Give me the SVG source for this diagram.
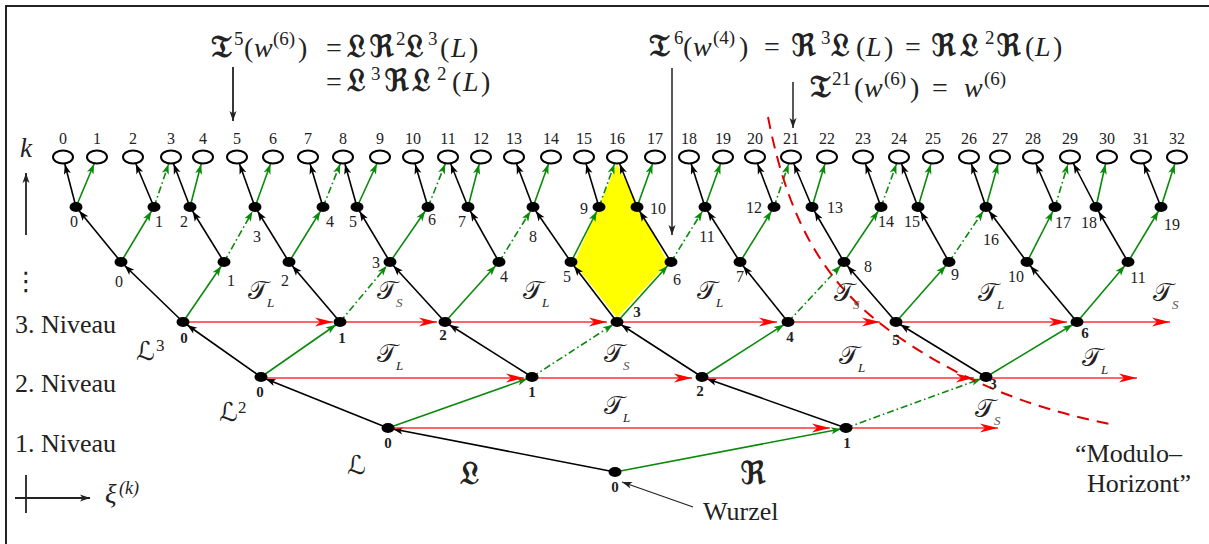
<svg xmlns="http://www.w3.org/2000/svg" width="1209" height="544" viewBox="0 0 1209 544">
<style>
.frame{stroke:#222;stroke-width:2;fill:none}
.b,.bl,.g,.gl,.d,.dl{fill:none;stroke-width:1.6}
.b{stroke:#000;marker-end:url(#ab)}
.bl{stroke:#000;marker-end:url(#abl)}
.g{stroke:#0a8a0a;marker-end:url(#ag)}
.gl{stroke:#0a8a0a;marker-end:url(#agl)}
.d{stroke:#0a8a0a;stroke-dasharray:7 3 1.6 3;marker-end:url(#ag)}
.dl{stroke:#0a8a0a;stroke-dasharray:7 3 1.6 3;marker-end:url(#agl)}
.r{stroke:#ff3333;stroke-width:1.3;fill:none;marker-end:url(#ar)}
.ax{stroke:#222;stroke-width:1.8;fill:none}
.nd{fill:#000}
.lf{fill:#fff;stroke:#000;stroke-width:2}
text{font-family:"Liberation Serif","DejaVu Serif","DejaVu Sans",serif;fill:#222}
.n{font-size:16px;text-anchor:middle}
.n3{font-size:15px;font-weight:bold;text-anchor:middle}
.m{font-size:28px}
.fk{font-size:31px;font-weight:bold}
.sp{font-size:19px}
.it{font-style:italic}
.tl{font-size:26px}
.sub{font-size:13px;font-style:italic}
.lab{font-size:26px}
</style>
<defs>
<marker id="ab" markerUnits="userSpaceOnUse" orient="auto" overflow="visible" refX="5" refY="0" markerWidth="1" markerHeight="1"><path d="M0,0 L-10,-3.6 L-7.5,0 L-10,3.6Z" fill="#000"/></marker>
<marker id="abl" markerUnits="userSpaceOnUse" orient="auto" overflow="visible" refX="7.5" refY="0" markerWidth="1" markerHeight="1"><path d="M0,0 L-10,-3.6 L-7.5,0 L-10,3.6Z" fill="#000"/></marker>
<marker id="ag" markerUnits="userSpaceOnUse" orient="auto" overflow="visible" refX="5" refY="0" markerWidth="1" markerHeight="1"><path d="M0,0 L-10,-3.6 L-7.5,0 L-10,3.6Z" fill="#0a8a0a"/></marker>
<marker id="agl" markerUnits="userSpaceOnUse" orient="auto" overflow="visible" refX="7.5" refY="0" markerWidth="1" markerHeight="1"><path d="M0,0 L-10,-3.6 L-7.5,0 L-10,3.6Z" fill="#0a8a0a"/></marker>
<marker id="ar" markerUnits="userSpaceOnUse" orient="auto" overflow="visible" refX="0" refY="0" markerWidth="1" markerHeight="1"><path d="M0,0 L-18,-4.5 L-13,0 L-18,4.5Z" fill="#ff0000"/></marker>
<marker id="ak" markerUnits="userSpaceOnUse" orient="auto" overflow="visible" refX="0" refY="0" markerWidth="1" markerHeight="1"><path d="M0,0 L-10,-3.5 L-7.5,0 L-10,3.5Z" fill="#222"/></marker>
</defs>

<path class="frame" d="M6,544 V6 H1209"/>

<polygon id="highlight" points="574,263 617,164 668,263 617,318" fill="#ffff00"/>

<g id="connectors">
<line class="b" x1="615" y1="472" x2="388" y2="428"/>
<line class="g" x1="615" y1="472" x2="846" y2="428"/>
<line class="b" x1="388" y1="428" x2="261" y2="377"/>
<line class="g" x1="388" y1="428" x2="532" y2="377"/>
<line class="b" x1="846" y1="428" x2="702" y2="377"/>
<line class="d" x1="846" y1="428" x2="986" y2="377"/>
<line class="b" x1="261" y1="377" x2="183" y2="322"/>
<line class="g" x1="261" y1="377" x2="340" y2="322"/>
<line class="b" x1="532" y1="377" x2="445" y2="322"/>
<line class="d" x1="532" y1="377" x2="617" y2="322"/>
<line class="b" x1="702" y1="377" x2="617" y2="322"/>
<line class="g" x1="702" y1="377" x2="788" y2="322"/>
<line class="b" x1="986" y1="377" x2="896" y2="322"/>
<line class="g" x1="986" y1="377" x2="1077" y2="322"/>
<line class="b" x1="183" y1="322" x2="121" y2="262"/>
<line class="g" x1="183" y1="322" x2="224" y2="262"/>
<line class="b" x1="340" y1="322" x2="289" y2="262"/>
<line class="d" x1="340" y1="322" x2="390" y2="262"/>
<line class="b" x1="445" y1="322" x2="390" y2="262"/>
<line class="g" x1="445" y1="322" x2="499" y2="262"/>
<line class="b" x1="617" y1="322" x2="571" y2="262"/>
<line class="g" x1="617" y1="322" x2="671" y2="262"/>
<line class="b" x1="788" y1="322" x2="740" y2="262"/>
<line class="d" x1="788" y1="322" x2="844" y2="262"/>
<line class="b" x1="896" y1="322" x2="844" y2="262"/>
<line class="g" x1="896" y1="322" x2="949" y2="262"/>
<line class="b" x1="1077" y1="322" x2="1027" y2="262"/>
<line class="g" x1="1077" y1="322" x2="1128" y2="262"/>
<line class="b" x1="121" y1="262" x2="76" y2="207"/>
<line class="g" x1="121" y1="262" x2="154" y2="207"/>
<line class="b" x1="224" y1="262" x2="190" y2="207"/>
<line class="d" x1="224" y1="262" x2="255" y2="207"/>
<line class="b" x1="289" y1="262" x2="255" y2="207"/>
<line class="g" x1="289" y1="262" x2="323" y2="207"/>
<line class="b" x1="390" y1="262" x2="357" y2="207"/>
<line class="g" x1="390" y1="262" x2="428" y2="207"/>
<line class="b" x1="499" y1="262" x2="468" y2="207"/>
<line class="d" x1="499" y1="262" x2="533" y2="207"/>
<line class="b" x1="571" y1="262" x2="533" y2="207"/>
<line class="g" x1="571" y1="262" x2="599" y2="207"/>
<line class="b" x1="671" y1="262" x2="637" y2="207"/>
<line class="d" x1="671" y1="262" x2="705" y2="207"/>
<line class="b" x1="740" y1="262" x2="705" y2="207"/>
<line class="g" x1="740" y1="262" x2="774" y2="207"/>
<line class="b" x1="844" y1="262" x2="812" y2="207"/>
<line class="g" x1="844" y1="262" x2="881" y2="207"/>
<line class="b" x1="949" y1="262" x2="918" y2="207"/>
<line class="d" x1="949" y1="262" x2="986" y2="207"/>
<line class="b" x1="1027" y1="262" x2="986" y2="207"/>
<line class="g" x1="1027" y1="262" x2="1055" y2="207"/>
<line class="b" x1="1128" y1="262" x2="1096" y2="207"/>
<line class="g" x1="1128" y1="262" x2="1161" y2="207"/>
<line class="bl" x1="76" y1="207" x2="63" y2="157"/>
<line class="gl" x1="76" y1="207" x2="97" y2="157"/>
<line class="bl" x1="154" y1="207" x2="133" y2="157"/>
<line class="dl" x1="154" y1="207" x2="171" y2="157"/>
<line class="bl" x1="190" y1="207" x2="171" y2="157"/>
<line class="gl" x1="190" y1="207" x2="203" y2="157"/>
<line class="bl" x1="255" y1="207" x2="237" y2="157"/>
<line class="gl" x1="255" y1="207" x2="273" y2="157"/>
<line class="bl" x1="323" y1="207" x2="308" y2="157"/>
<line class="dl" x1="323" y1="207" x2="343" y2="157"/>
<line class="bl" x1="357" y1="207" x2="343" y2="157"/>
<line class="gl" x1="357" y1="207" x2="380" y2="157"/>
<line class="bl" x1="428" y1="207" x2="413" y2="157"/>
<line class="dl" x1="428" y1="207" x2="448" y2="157"/>
<line class="bl" x1="468" y1="207" x2="448" y2="157"/>
<line class="gl" x1="468" y1="207" x2="481" y2="157"/>
<line class="bl" x1="533" y1="207" x2="514" y2="157"/>
<line class="gl" x1="533" y1="207" x2="551" y2="157"/>
<line class="bl" x1="599" y1="207" x2="584" y2="157"/>
<line class="dl" x1="599" y1="207" x2="617" y2="157"/>
<line class="bl" x1="637" y1="207" x2="617" y2="157"/>
<line class="gl" x1="637" y1="207" x2="655" y2="157"/>
<line class="bl" x1="705" y1="207" x2="689" y2="157"/>
<line class="gl" x1="705" y1="207" x2="723" y2="157"/>
<line class="bl" x1="774" y1="207" x2="755" y2="157"/>
<line class="dl" x1="774" y1="207" x2="791" y2="157"/>
<line class="bl" x1="812" y1="207" x2="791" y2="157"/>
<line class="gl" x1="812" y1="207" x2="827" y2="157"/>
<line class="bl" x1="881" y1="207" x2="863" y2="157"/>
<line class="dl" x1="881" y1="207" x2="899" y2="157"/>
<line class="bl" x1="918" y1="207" x2="899" y2="157"/>
<line class="gl" x1="918" y1="207" x2="933" y2="157"/>
<line class="bl" x1="986" y1="207" x2="969" y2="157"/>
<line class="gl" x1="986" y1="207" x2="1000" y2="157"/>
<line class="bl" x1="1055" y1="207" x2="1033" y2="157"/>
<line class="dl" x1="1055" y1="207" x2="1070" y2="157"/>
<line class="bl" x1="1096" y1="207" x2="1070" y2="157"/>
<line class="gl" x1="1096" y1="207" x2="1107" y2="157"/>
<line class="bl" x1="1161" y1="207" x2="1141" y2="157"/>
<line class="gl" x1="1161" y1="207" x2="1177" y2="157"/>
<line class="r" x1="183" y1="322" x2="333" y2="322"/>
<line class="r" x1="340" y1="322" x2="437" y2="322"/>
<line class="r" x1="445" y1="322" x2="607" y2="322"/>
<line class="r" x1="617" y1="322" x2="777" y2="322"/>
<line class="r" x1="788" y1="322" x2="880" y2="322"/>
<line class="r" x1="896" y1="322" x2="1067" y2="322"/>
<line class="r" x1="1077" y1="322" x2="1170" y2="322"/>
<line class="r" x1="261" y1="378" x2="524" y2="378"/>
<line class="r" x1="532" y1="378" x2="692" y2="378"/>
<line class="r" x1="702" y1="378" x2="974" y2="378"/>
<line class="r" x1="986" y1="378" x2="1137" y2="378"/>
<line class="r" x1="388" y1="428" x2="830" y2="428"/>
<line class="r" x1="846" y1="428" x2="998" y2="428"/>
<line class="ax" x1="233" y1="67" x2="233" y2="121" marker-end="url(#ak)"/>
<line class="ax" x1="672" y1="68" x2="672" y2="235" marker-end="url(#ak)" style="stroke-width:1.5"/>
<line class="ax" x1="793" y1="82" x2="793" y2="128" marker-end="url(#ak)" style="stroke-width:1.5"/>
<line class="ax" x1="693" y1="507" x2="622" y2="482" marker-end="url(#ak)" style="stroke-width:1.2"/>
</g>

<path id="modulo-horizont" d="M768,117 C790,230 830,290 900,338 S1040,410 1110,424" fill="none" stroke="#dd0000" stroke-width="2" stroke-dasharray="12 8"/>

<g id="leaves">
<g id="leaf0"><ellipse class="lf" cx="63" cy="157" rx="10" ry="6.5"/><text class="n" x="63" y="144">0</text></g>
<g id="leaf1"><ellipse class="lf" cx="97" cy="157" rx="10" ry="6.5"/><text class="n" x="97" y="144">1</text></g>
<g id="leaf2"><ellipse class="lf" cx="133" cy="157" rx="10" ry="6.5"/><text class="n" x="133" y="144">2</text></g>
<g id="leaf3"><ellipse class="lf" cx="171" cy="157" rx="10" ry="6.5"/><text class="n" x="171" y="144">3</text></g>
<g id="leaf4"><ellipse class="lf" cx="203" cy="157" rx="10" ry="6.5"/><text class="n" x="203" y="144">4</text></g>
<g id="leaf5"><ellipse class="lf" cx="237" cy="157" rx="10" ry="6.5"/><text class="n" x="237" y="144">5</text></g>
<g id="leaf6"><ellipse class="lf" cx="273" cy="157" rx="10" ry="6.5"/><text class="n" x="273" y="144">6</text></g>
<g id="leaf7"><ellipse class="lf" cx="308" cy="157" rx="10" ry="6.5"/><text class="n" x="308" y="144">7</text></g>
<g id="leaf8"><ellipse class="lf" cx="343" cy="157" rx="10" ry="6.5"/><text class="n" x="343" y="144">8</text></g>
<g id="leaf9"><ellipse class="lf" cx="380" cy="157" rx="10" ry="6.5"/><text class="n" x="380" y="144">9</text></g>
<g id="leaf10"><ellipse class="lf" cx="413" cy="157" rx="10" ry="6.5"/><text class="n" x="413" y="144">10</text></g>
<g id="leaf11"><ellipse class="lf" cx="448" cy="157" rx="10" ry="6.5"/><text class="n" x="448" y="144">11</text></g>
<g id="leaf12"><ellipse class="lf" cx="481" cy="157" rx="10" ry="6.5"/><text class="n" x="481" y="144">12</text></g>
<g id="leaf13"><ellipse class="lf" cx="514" cy="157" rx="10" ry="6.5"/><text class="n" x="514" y="144">13</text></g>
<g id="leaf14"><ellipse class="lf" cx="551" cy="157" rx="10" ry="6.5"/><text class="n" x="551" y="144">14</text></g>
<g id="leaf15"><ellipse class="lf" cx="584" cy="157" rx="10" ry="6.5"/><text class="n" x="584" y="144">15</text></g>
<g id="leaf16"><ellipse class="lf" cx="617" cy="157" rx="10" ry="6.5"/><text class="n" x="617" y="144">16</text></g>
<g id="leaf17"><ellipse class="lf" cx="655" cy="157" rx="10" ry="6.5"/><text class="n" x="655" y="144">17</text></g>
<g id="leaf18"><ellipse class="lf" cx="689" cy="157" rx="10" ry="6.5"/><text class="n" x="689" y="144">18</text></g>
<g id="leaf19"><ellipse class="lf" cx="723" cy="157" rx="10" ry="6.5"/><text class="n" x="723" y="144">19</text></g>
<g id="leaf20"><ellipse class="lf" cx="755" cy="157" rx="10" ry="6.5"/><text class="n" x="755" y="144">20</text></g>
<g id="leaf21"><ellipse class="lf" cx="791" cy="157" rx="10" ry="6.5"/><text class="n" x="791" y="144">21</text></g>
<g id="leaf22"><ellipse class="lf" cx="827" cy="157" rx="10" ry="6.5"/><text class="n" x="827" y="144">22</text></g>
<g id="leaf23"><ellipse class="lf" cx="863" cy="157" rx="10" ry="6.5"/><text class="n" x="863" y="144">23</text></g>
<g id="leaf24"><ellipse class="lf" cx="899" cy="157" rx="10" ry="6.5"/><text class="n" x="899" y="144">24</text></g>
<g id="leaf25"><ellipse class="lf" cx="933" cy="157" rx="10" ry="6.5"/><text class="n" x="933" y="144">25</text></g>
<g id="leaf26"><ellipse class="lf" cx="969" cy="157" rx="10" ry="6.5"/><text class="n" x="969" y="144">26</text></g>
<g id="leaf27"><ellipse class="lf" cx="1000" cy="157" rx="10" ry="6.5"/><text class="n" x="1000" y="144">27</text></g>
<g id="leaf28"><ellipse class="lf" cx="1033" cy="157" rx="10" ry="6.5"/><text class="n" x="1033" y="144">28</text></g>
<g id="leaf29"><ellipse class="lf" cx="1070" cy="157" rx="10" ry="6.5"/><text class="n" x="1070" y="144">29</text></g>
<g id="leaf30"><ellipse class="lf" cx="1107" cy="157" rx="10" ry="6.5"/><text class="n" x="1107" y="144">30</text></g>
<g id="leaf31"><ellipse class="lf" cx="1141" cy="157" rx="10" ry="6.5"/><text class="n" x="1141" y="144">31</text></g>
<g id="leaf32"><ellipse class="lf" cx="1177" cy="157" rx="10" ry="6.5"/><text class="n" x="1177" y="144">32</text></g>
</g>

<g id="level5">
<g id="n5-0"><ellipse class="nd" cx="76" cy="207" rx="6.5" ry="5"/><text class="n" x="74" y="227">0</text></g>
<g id="n5-1"><ellipse class="nd" cx="154" cy="207" rx="6.5" ry="5"/><text class="n" x="159" y="227">1</text></g>
<g id="n5-2"><ellipse class="nd" cx="190" cy="207" rx="6.5" ry="5"/><text class="n" x="184" y="227">2</text></g>
<g id="n5-3"><ellipse class="nd" cx="255" cy="207" rx="6.5" ry="5"/><text class="n" x="257" y="242">3</text></g>
<g id="n5-4"><ellipse class="nd" cx="323" cy="207" rx="6.5" ry="5"/><text class="n" x="330" y="227">4</text></g>
<g id="n5-5"><ellipse class="nd" cx="357" cy="207" rx="6.5" ry="5"/><text class="n" x="353" y="227">5</text></g>
<g id="n5-6"><ellipse class="nd" cx="428" cy="207" rx="6.5" ry="5"/><text class="n" x="432" y="225">6</text></g>
<g id="n5-7"><ellipse class="nd" cx="468" cy="207" rx="6.5" ry="5"/><text class="n" x="462" y="227">7</text></g>
<g id="n5-8"><ellipse class="nd" cx="533" cy="207" rx="6.5" ry="5"/><text class="n" x="533" y="242">8</text></g>
<g id="n5-9"><ellipse class="nd" cx="599" cy="207" rx="6.5" ry="5"/><text class="n" x="584" y="214">9</text></g>
<g id="n5-10"><ellipse class="nd" cx="637" cy="207" rx="6.5" ry="5"/><text class="n" x="658" y="214">10</text></g>
<g id="n5-11"><ellipse class="nd" cx="705" cy="207" rx="6.5" ry="5"/><text class="n" x="707" y="242">11</text></g>
<g id="n5-12"><ellipse class="nd" cx="774" cy="207" rx="6.5" ry="5"/><text class="n" x="754" y="213">12</text></g>
<g id="n5-13"><ellipse class="nd" cx="812" cy="207" rx="6.5" ry="5"/><text class="n" x="835" y="213">13</text></g>
<g id="n5-14"><ellipse class="nd" cx="881" cy="207" rx="6.5" ry="5"/><text class="n" x="886" y="227">14</text></g>
<g id="n5-15"><ellipse class="nd" cx="918" cy="207" rx="6.5" ry="5"/><text class="n" x="912" y="227">15</text></g>
<g id="n5-16"><ellipse class="nd" cx="986" cy="207" rx="6.5" ry="5"/><text class="n" x="991" y="245">16</text></g>
<g id="n5-17"><ellipse class="nd" cx="1055" cy="207" rx="6.5" ry="5"/><text class="n" x="1063" y="228">17</text></g>
<g id="n5-18"><ellipse class="nd" cx="1096" cy="207" rx="6.5" ry="5"/><text class="n" x="1089" y="228">18</text></g>
<g id="n5-19"><ellipse class="nd" cx="1161" cy="207" rx="6.5" ry="5"/><text class="n" x="1172" y="230">19</text></g>
</g>

<g id="level4">
<g id="n4-0"><ellipse class="nd" cx="121" cy="262" rx="6.5" ry="5"/><text class="n" x="119" y="287">0</text></g>
<g id="n4-1"><ellipse class="nd" cx="224" cy="262" rx="6.5" ry="5"/><text class="n" x="231" y="286">1</text></g>
<g id="n4-2"><ellipse class="nd" cx="289" cy="262" rx="6.5" ry="5"/><text class="n" x="285" y="286">2</text></g>
<g id="n4-3"><ellipse class="nd" cx="390" cy="262" rx="6.5" ry="5"/><text class="n" x="376" y="268">3</text></g>
<g id="n4-4"><ellipse class="nd" cx="499" cy="262" rx="6.5" ry="5"/><text class="n" x="504" y="282">4</text></g>
<g id="n4-5"><ellipse class="nd" cx="571" cy="262" rx="6.5" ry="5"/><text class="n" x="567" y="282">5</text></g>
<g id="n4-6"><ellipse class="nd" cx="671" cy="262" rx="6.5" ry="5"/><text class="n" x="677" y="285">6</text></g>
<g id="n4-7"><ellipse class="nd" cx="740" cy="262" rx="6.5" ry="5"/><text class="n" x="740" y="282">7</text></g>
<g id="n4-8"><ellipse class="nd" cx="844" cy="262" rx="6.5" ry="5"/><text class="n" x="868" y="272">8</text></g>
<g id="n4-9"><ellipse class="nd" cx="949" cy="262" rx="6.5" ry="5"/><text class="n" x="955" y="280">9</text></g>
<g id="n4-10"><ellipse class="nd" cx="1027" cy="262" rx="6.5" ry="5"/><text class="n" x="1016" y="282">10</text></g>
<g id="n4-11"><ellipse class="nd" cx="1128" cy="262" rx="6.5" ry="5"/><text class="n" x="1138" y="283">11</text></g>
</g>

<g id="level3">
<g id="n3-0"><ellipse class="nd" cx="183" cy="322" rx="6.5" ry="5"/><text class="n3" x="184" y="343">0</text></g>
<g id="n3-1"><ellipse class="nd" cx="340" cy="322" rx="6.5" ry="5"/><text class="n3" x="342" y="343">1</text></g>
<g id="n3-2"><ellipse class="nd" cx="445" cy="322" rx="6.5" ry="5"/><text class="n3" x="443" y="340">2</text></g>
<g id="n3-3"><ellipse class="nd" cx="617" cy="322" rx="6.5" ry="5"/><text class="n3" x="637" y="317">3</text></g>
<g id="n3-4"><ellipse class="nd" cx="788" cy="322" rx="6.5" ry="5"/><text class="n3" x="790" y="342">4</text></g>
<g id="n3-5"><ellipse class="nd" cx="896" cy="322" rx="6.5" ry="5"/><text class="n3" x="896" y="345">5</text></g>
<g id="n3-6"><ellipse class="nd" cx="1077" cy="322" rx="6.5" ry="5"/><text class="n3" x="1085" y="338">6</text></g>
</g>

<g id="level2">
<g id="n2-0"><ellipse class="nd" cx="261" cy="377" rx="6.5" ry="5"/><text class="n3" x="260" y="397">0</text></g>
<g id="n2-1"><ellipse class="nd" cx="532" cy="377" rx="6.5" ry="5"/><text class="n3" x="532" y="397">1</text></g>
<g id="n2-2"><ellipse class="nd" cx="702" cy="377" rx="6.5" ry="5"/><text class="n3" x="700" y="396">2</text></g>
<g id="n2-3"><ellipse class="nd" cx="986" cy="377" rx="6.5" ry="5"/><text class="n3" x="993" y="389">3</text></g>
</g>

<g id="level1">
<g id="n1-0"><ellipse class="nd" cx="388" cy="428" rx="6.5" ry="5"/><text class="n3" x="388" y="448">0</text></g>
<g id="n1-1"><ellipse class="nd" cx="846" cy="428" rx="6.5" ry="5"/><text class="n3" x="847" y="448">1</text></g>
</g>

<g id="root"><ellipse class="nd" cx="615" cy="472" rx="6.5" ry="5"/><text class="n3" x="615" y="492">0</text></g>

<g id="shift-labels">
<text class="tl" x="248" y="299">𝒯<tspan class="sub" x="267" y="307">L</tspan></text>
<text class="tl" x="377" y="299">𝒯<tspan class="sub" x="396" y="307" fill="#555">S</tspan></text>
<text class="tl" x="523" y="299">𝒯<tspan class="sub" x="542" y="307">L</tspan></text>
<text class="tl" x="697" y="299">𝒯<tspan class="sub" x="716" y="307">L</tspan></text>
<text class="tl" x="834" y="301">𝒯<tspan class="sub" x="853" y="309" fill="#555">S</tspan></text>
<text class="tl" x="978" y="301">𝒯<tspan class="sub" x="997" y="309">L</tspan></text>
<text class="tl" x="1153" y="301">𝒯<tspan class="sub" x="1172" y="309" fill="#555">S</tspan></text>
<text class="tl" x="377" y="362">𝒯<tspan class="sub" x="396" y="370">L</tspan></text>
<text class="tl" x="604" y="362">𝒯<tspan class="sub" x="623" y="370" fill="#555">S</tspan></text>
<text class="tl" x="839" y="364">𝒯<tspan class="sub" x="858" y="372">L</tspan></text>
<text class="tl" x="1082" y="366">𝒯<tspan class="sub" x="1101" y="374">L</tspan></text>
<text class="tl" x="604" y="414">𝒯<tspan class="sub" x="623" y="422">L</tspan></text>
<text class="tl" x="975" y="417">𝒯<tspan class="sub" x="994" y="425" fill="#555">S</tspan></text>
</g>

<g id="formulas">
<text class="m"><tspan class="fk" x="211" y="57">𝔗</tspan><tspan class="sp" x="234" y="45">5</tspan><tspan x="244" y="57">(</tspan><tspan class="it" x="254" y="57">w</tspan><tspan class="sp" x="273" y="45">(6)</tspan><tspan x="298" y="57">)</tspan><tspan x="326" y="57">=</tspan><tspan class="fk" x="347" y="57">𝔏</tspan><tspan class="fk" x="369" y="57">ℜ</tspan><tspan class="sp" x="396" y="45">2</tspan><tspan class="fk" x="405" y="57">𝔏</tspan><tspan class="sp" x="428" y="45">3</tspan><tspan x="440" y="57">(</tspan><tspan class="it" x="451" y="57">L</tspan><tspan x="469" y="57">)</tspan></text>
<text class="m"><tspan x="326" y="91">=</tspan><tspan class="fk" x="347" y="91">𝔏</tspan><tspan class="sp" x="371" y="80">3</tspan><tspan class="fk" x="384" y="91">ℜ</tspan><tspan class="fk" x="412" y="91">𝔏</tspan><tspan class="sp" x="437" y="80">2</tspan><tspan x="452" y="91">(</tspan><tspan class="it" x="463" y="91">L</tspan><tspan x="481" y="91">)</tspan></text>
<text class="m"><tspan class="fk" x="649" y="56">𝔗</tspan><tspan class="sp" x="674" y="44">6</tspan><tspan x="683" y="56">(</tspan><tspan class="it" x="693" y="56">w</tspan><tspan class="sp" x="713" y="44">(4)</tspan><tspan x="739" y="56">)</tspan><tspan x="764" y="56">=</tspan><tspan class="fk" x="791" y="56">ℜ</tspan><tspan class="sp" x="821" y="44">3</tspan><tspan class="fk" x="831" y="56">𝔏</tspan><tspan x="856" y="56">(</tspan><tspan class="it" x="866" y="56">L</tspan><tspan x="884" y="56">)</tspan><tspan x="905" y="56">=</tspan><tspan class="fk" x="931" y="56">ℜ</tspan><tspan class="fk" x="960" y="56">𝔏</tspan><tspan class="sp" x="985" y="44">2</tspan><tspan class="fk" x="996" y="56">ℜ</tspan><tspan x="1025" y="56">(</tspan><tspan class="it" x="1035" y="56">L</tspan><tspan x="1053" y="56">)</tspan></text>
<text class="m"><tspan class="fk" x="810" y="97">𝔗</tspan><tspan class="sp" x="832" y="85">21</tspan><tspan x="854" y="97">(</tspan><tspan class="it" x="864" y="97">w</tspan><tspan class="sp" x="884" y="85">(6)</tspan><tspan x="910" y="97">)</tspan><tspan x="932" y="97">=</tspan><tspan class="it" x="964" y="97">w</tspan><tspan class="sp" x="984" y="85">(6)</tspan></text>
</g>

<g id="side-labels">
<text class="it" x="20" y="157" style="font-size:27px">k</text>
<line class="ax" x1="26" y1="235" x2="26" y2="173" marker-end="url(#ak)"/>
<text x="26" y="290" style="font-size:26px;text-anchor:middle">⋮</text>
<text class="lab" x="15" y="333">3. Niveau</text>
<text class="lab" x="15" y="392">2. Niveau</text>
<text class="lab" x="15" y="452">1. Niveau</text>
<text class="lab" x="136" y="360">ℒ<tspan style="font-size:17px" x="156" y="351">3</tspan></text>
<text class="lab" x="219" y="421">ℒ<tspan style="font-size:17px" x="238" y="413">2</tspan></text>
<text class="lab" x="347" y="474">ℒ</text>
<text x="460" y="484" style="font-size:32px;font-weight:bold">𝔏</text>
<text x="740" y="484" style="font-size:32px;font-weight:bold">ℜ</text>
<line class="ax" x1="26" y1="475" x2="26" y2="513"/>
<line class="ax" x1="15" y1="498" x2="90" y2="498" marker-end="url(#ak)"/>
<text class="it" x="105" y="503" style="font-size:27px">ξ</text>
<text class="it" x="119" y="494" style="font-size:18px">(k)</text>
<text class="lab" x="703" y="520">Wurzel</text>
<text class="lab" x="1075" y="462">“Modulo–</text>
<text class="lab" x="1087" y="492">Horizont”</text>
</g>
</svg>
